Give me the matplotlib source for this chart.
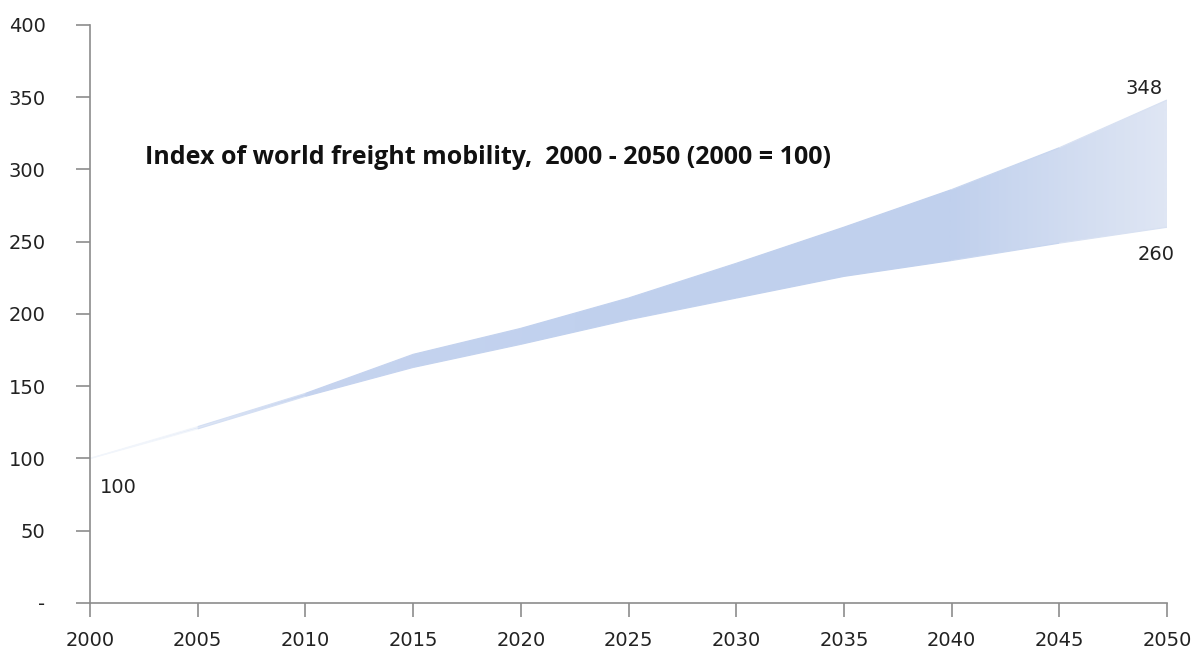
import numpy as np
import matplotlib.pyplot as plt
from matplotlib.colors import LinearSegmentedColormap
from matplotlib.collections import LineCollection

years = [2000, 2005, 2010, 2015, 2020, 2025, 2030, 2035, 2040, 2045, 2050]
high = [100, 122, 145, 172, 190, 211, 235, 260, 286, 315, 348]
low = [100, 120.5, 143, 163, 179, 196, 211, 226, 237, 249, 260]

y_ticks = [0, 50, 100, 150, 200, 250, 300, 350, 400]
y_tick_labels = ["-", "50", "100", "150", "200", "250", "300", "350", "400"]

fig = plt.figure(figsize=(11.99, 6.52), dpi=100)
ax = fig.add_axes([0.0751, 0.0752, 0.8982, 0.8866])

# band between the two scenarios, shaded white -> blue -> pale blue along x
band = ax.fill_between(years, low, high, facecolor="none", edgecolor="none")
cmap = LinearSegmentedColormap.from_list(
    "band",
    [(0.0, "#ffffff"), (0.1, "#e2e9f7"), (0.2, "#c6d4ef"), (0.45, "#c1d1ee"),
     (0.8, "#c0d0ed"), (1.0, "#dfe6f4")],
)
grad = np.linspace(0, 1, 512).reshape(1, -1)
img = ax.imshow(grad, cmap=cmap, aspect="auto", extent=[2000, 2050, 0, 400],
                origin="lower", zorder=1, interpolation="bilinear")
img.set_clip_path(band.get_paths()[0], transform=ax.transData)

# soft edges so the thin early part of the band stays visible
x = np.array(years, dtype=float)
for edge in (high, low):
    pts = np.column_stack([x, edge])
    segs = np.stack([pts[:-1], pts[1:]], axis=1)
    mids = ((x[:-1] + x[1:]) / 2 - 2000) / 50
    lc = LineCollection(segs, colors=cmap(mids), linewidths=0.9, zorder=1.5)
    ax.add_collection(lc)

ax.set_xlim(2000, 2050)
ax.set_ylim(0, 400)
ax.set_xticks(years)
ax.set_yticks(y_ticks)
ax.set_yticklabels(y_tick_labels)

for side in ["top", "right"]:
    ax.spines[side].set_visible(False)
for side in ["left", "bottom"]:
    ax.spines[side].set_color("#8c8c8c")
    ax.spines[side].set_linewidth(1.2)

ax.tick_params(axis="y", direction="out", length=10, width=1.2, color="#8c8c8c",
               labelsize=14, pad=22, labelcolor="#222222")
ax.tick_params(axis="x", direction="out", length=10, width=1.2, color="#8c8c8c",
               labelsize=14, pad=10, labelcolor="#222222")
for lbl in ax.get_xticklabels() + ax.get_yticklabels():
    lbl.set_fontfamily("DejaVu Sans")

ax.text(2002.55, 308, "Index of world freight mobility,  2000 - 2050 (2000 = 100)",
        fontsize=18, fontweight="bold", family="Open Sans", va="center", ha="left",
        color="#111111")

ax.text(2050 - 0.2, high[-1] + 8, str(high[-1]), fontsize=14, ha="right",
        va="center", color="#222222")
ax.text(2050 + 0.35, low[-1] - 19, str(low[-1]), fontsize=14, ha="right",
        va="center", color="#222222")
ax.text(2000.45, low[0] - 20, str(low[0]), fontsize=14, ha="left",
        va="center", color="#222222")

fig.savefig("out.png", dpi=100, facecolor="white")
